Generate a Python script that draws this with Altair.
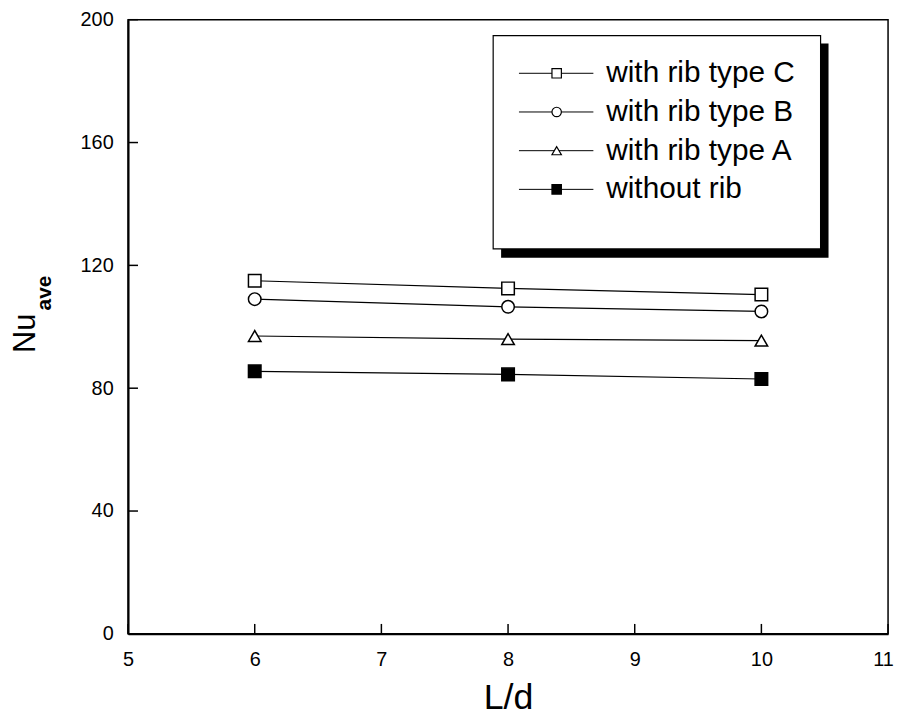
import altair as alt
import pandas as pd

# ---- data ----
series = ["with rib type C", "with rib type B", "with rib type A", "without rib"]
ld_values = [6, 8, 10]
nu_type_c = [115.0, 112.5, 110.5]
nu_type_b = [109.0, 106.5, 105.0]
nu_type_a = [97.0, 96.0, 95.5]
nu_no_rib = [85.5, 84.5, 83.0]

x_ticks = [5, 6, 7, 8, 9, 10, 11]
y_ticks = [0, 40, 80, 120, 160, 200]

rows = []
for name, vals in zip(series, [nu_type_c, nu_type_b, nu_type_a, nu_no_rib]):
    for x, v in zip(ld_values, vals):
        rows.append({"series": name, "ld": x, "nu": v})
df = pd.DataFrame(rows)

W, H = 766, 619
FONT = "Liberation Sans"

shape_range = ["square", "circle", "triangle-up", "square"]
fill_range = ["white", "white", "white", "black"]

xscale = alt.Scale(domain=[5, 11], nice=False, zero=False)
yscale = alt.Scale(domain=[0, 200], nice=False)

x_enc = alt.X(
    "ld:Q", scale=xscale,
    axis=alt.Axis(values=x_ticks, format="d", title="L/d", labelFlush=False, labelOverlap=False,
                  labelPadding=16, titlePadding=11, titleFontSize=36,
                  labelOffset={"condition": {"test": "datum.value == 11", "value": -5}, "value": 0},
                  titleFont=FONT, titleFontWeight="normal", titleColor="black"),
)
y_enc = alt.Y(
    "nu:Q", scale=yscale,
    axis=alt.Axis(values=y_ticks, format="d", title=None, labelFlush=False, labelOverlap=False,
                  labelPadding=15),
)

base = alt.Chart(df)
lines = base.mark_line(color="black", strokeWidth=1.2).encode(
    x=x_enc, y=y_enc, detail="series:N"
)
points = base.mark_point(filled=True, stroke="black", strokeWidth=1.5, size=160, opacity=1).encode(
    x=alt.X("ld:Q", scale=xscale),
    y=alt.Y("nu:Q", scale=yscale),
    shape=alt.Shape("series:N", scale=alt.Scale(domain=series, range=shape_range), legend=None),
    fill=alt.Fill("series:N", scale=alt.Scale(domain=series, range=fill_range), legend=None),
)

# inward ticks
xt = alt.Chart(pd.DataFrame({"v": x_ticks})).mark_rule(color="black", strokeWidth=1.5).encode(
    x=alt.X("v:Q", scale=xscale), y=alt.value(H), y2=alt.value(H - 10)
)
yt = alt.Chart(pd.DataFrame({"v": y_ticks})).mark_rule(color="black", strokeWidth=1.5).encode(
    y=alt.Y("v:Q", scale=yscale), x=alt.value(0), x2=alt.value(10)
)

# y-axis title with subscript
nu_title = alt.Chart(pd.DataFrame({"t": ["Nu"]})).mark_text(
    angle=270, align="left", baseline="alphabetic", font=FONT, fontSize=31, color="black"
).encode(text="t:N", x=alt.value(-94), y=alt.value(336))
ave_title = alt.Chart(pd.DataFrame({"t": ["ave"]})).mark_text(
    angle=270, align="left", baseline="alphabetic", font=FONT, fontSize=21, fontWeight="bold", color="black"
).encode(text="t:N", x=alt.value(-78), y=alt.value(293))

main = alt.layer(lines, points, xt, yt, nu_title, ave_title)

# legend box
leg_df = pd.DataFrame({"series": series, "idx": list(range(len(series)))})
shadow = alt.Chart(pd.DataFrame({"a": [0]})).mark_rect(color="black").encode(
    x=alt.value(376), x2=alt.value(706), y=alt.value(24), y2=alt.value(240)
)
box = alt.Chart(pd.DataFrame({"a": [0]})).mark_rect(fill="white", stroke="black", strokeWidth=1.2).encode(
    x=alt.value(368), x2=alt.value(698), y=alt.value(16), y2=alt.value(231)
)
leg_y = alt.Y("idx:Q", scale=alt.Scale(domain=[0, 3], range=[54, 171], nice=False, zero=False), axis=None)
leg_rule = alt.Chart(leg_df).mark_rule(color="black", strokeWidth=1).encode(
    y=leg_y, x=alt.value(394), x2=alt.value(469)
)
leg_pts = alt.Chart(leg_df).mark_point(filled=True, stroke="black", strokeWidth=1.2, size=90, opacity=1).encode(
    y=leg_y, x=alt.value(432),
    shape=alt.Shape("series:N", scale=alt.Scale(domain=series, range=shape_range), legend=None),
    fill=alt.Fill("series:N", scale=alt.Scale(domain=series, range=fill_range), legend=None),
)
leg_text = alt.Chart(leg_df).mark_text(
    align="left", baseline="middle", font=FONT, fontSize=30, color="black"
).encode(y=leg_y, x=alt.value(482), text="series:N")

legend = alt.layer(shadow, box, leg_rule, leg_pts, leg_text)

chart = alt.layer(main, legend).resolve_scale(
    y="independent", shape="independent", fill="independent"
).properties(
    width=W, height=H,
    autosize=alt.AutoSizeParams(type="none"),
    padding={"left": 121, "top": 9, "right": 7, "bottom": 82},
).configure_view(
    stroke="black", strokeWidth=1.5
).configure_axis(
    domainColor="black", domainWidth=2, tickSize=0, grid=False,
    labelFont=FONT, labelFontSize=20, labelColor="black",
)

chart.save("out.html", embed_options={"renderer": "svg", "actions": False})
